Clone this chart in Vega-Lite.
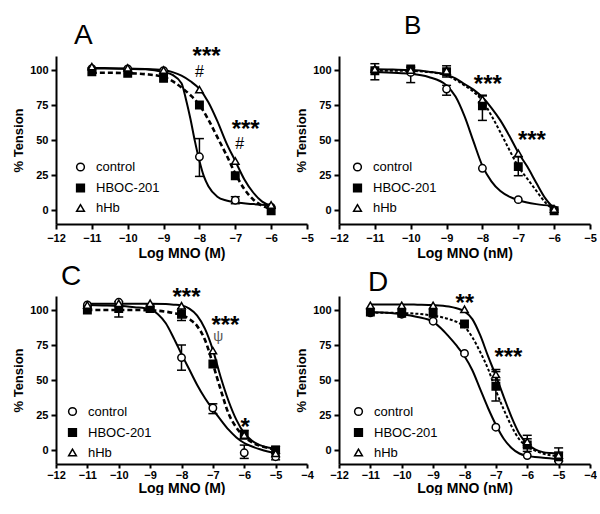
{
"$schema":"https://vega.github.io/schema/vega-lite/v6.json",
"background":"white",
"padding":{"left":12,"top":13,"right":0,"bottom":0},
"bounds":"flush",
"columns":2,
"spacing":{"row":72,"column":32},
"datasets":{
"pts":[
{"p":"A","s":"control","x":-11,"y":101},{"p":"A","s":"control","x":-10,"y":100.7},{"p":"A","s":"control","x":-9,"y":99.5},{"p":"A","s":"control","x":-8,"y":38,"lo":24,"hi":51},{"p":"A","s":"control","x":-7,"y":7,"lo":4.5,"hi":9.5},{"p":"A","s":"control","x":-6,"y":2},
{"p":"A","s":"HBOC-201","x":-11,"y":98.8},{"p":"A","s":"HBOC-201","x":-10,"y":97.6},{"p":"A","s":"HBOC-201","x":-9,"y":94},{"p":"A","s":"HBOC-201","x":-8,"y":75},{"p":"A","s":"HBOC-201","x":-7,"y":24.5},{"p":"A","s":"HBOC-201","x":-6,"y":-0.5},
{"p":"A","s":"hHb","x":-11,"y":102.4},{"p":"A","s":"hHb","x":-10,"y":101.5},{"p":"A","s":"hHb","x":-9,"y":100},{"p":"A","s":"hHb","x":-8,"y":86},{"p":"A","s":"hHb","x":-7,"y":35},{"p":"A","s":"hHb","x":-6,"y":3.6},
{"p":"B","s":"control","x":-11,"y":99.5,"lo":93,"hi":104.5},{"p":"B","s":"control","x":-10,"y":98.3,"lo":91,"hi":102},{"p":"B","s":"control","x":-9,"y":86.4,"lo":82,"hi":89},{"p":"B","s":"control","x":-8,"y":29.8},{"p":"B","s":"control","x":-7,"y":7.4},{"p":"B","s":"control","x":-6,"y":0},
{"p":"B","s":"HBOC-201","x":-11,"y":99.5},{"p":"B","s":"HBOC-201","x":-10,"y":100.7},{"p":"B","s":"HBOC-201","x":-9,"y":98.8,"lo":95,"hi":103},{"p":"B","s":"HBOC-201","x":-8,"y":74.5,"lo":64,"hi":81.5},{"p":"B","s":"HBOC-201","x":-7,"y":31,"lo":24.5,"hi":38},{"p":"B","s":"HBOC-201","x":-6,"y":-0.5},
{"p":"B","s":"hHb","x":-11,"y":100.7},{"p":"B","s":"hHb","x":-10,"y":100},{"p":"B","s":"hHb","x":-9,"y":99.5},{"p":"B","s":"hHb","x":-8,"y":79,"lo":77,"hi":82},{"p":"B","s":"hHb","x":-7,"y":40.5},{"p":"B","s":"hHb","x":-6,"y":0.7},
{"p":"C","s":"control","x":-11,"y":103.6},{"p":"C","s":"control","x":-10,"y":105.5},{"p":"C","s":"control","x":-9,"y":101},{"p":"C","s":"control","x":-8,"y":66,"lo":57,"hi":75},{"p":"C","s":"control","x":-7,"y":30,"lo":26,"hi":33},{"p":"C","s":"control","x":-6,"y":-2,"lo":-6,"hi":3.5},{"p":"C","s":"control","x":-5,"y":-4.8,"lo":-7,"hi":-2.5},
{"p":"C","s":"HBOC-201","x":-11,"y":100},{"p":"C","s":"HBOC-201","x":-10,"y":101,"lo":95,"hi":106},{"p":"C","s":"HBOC-201","x":-9,"y":101},{"p":"C","s":"HBOC-201","x":-8,"y":97,"lo":92.5,"hi":101},{"p":"C","s":"HBOC-201","x":-7,"y":61.4},{"p":"C","s":"HBOC-201","x":-6,"y":10.7,"lo":8,"hi":14},{"p":"C","s":"HBOC-201","x":-5,"y":0,"lo":-2.5,"hi":2.5},
{"p":"C","s":"hHb","x":-11,"y":103.6},{"p":"C","s":"hHb","x":-10,"y":104.8},{"p":"C","s":"hHb","x":-9,"y":104.8},{"p":"C","s":"hHb","x":-8,"y":103},{"p":"C","s":"hHb","x":-7,"y":71},{"p":"C","s":"hHb","x":-6,"y":10.7},{"p":"C","s":"hHb","x":-5,"y":-2.4},
{"p":"D","s":"control","x":-11,"y":98},{"p":"D","s":"control","x":-10,"y":97},{"p":"D","s":"control","x":-9,"y":92},{"p":"D","s":"control","x":-8,"y":69},{"p":"D","s":"control","x":-7,"y":16.3},{"p":"D","s":"control","x":-6,"y":-4},{"p":"D","s":"control","x":-5,"y":-7.7},
{"p":"D","s":"HBOC-201","x":-11,"y":98.5},{"p":"D","s":"HBOC-201","x":-10,"y":97.6},{"p":"D","s":"HBOC-201","x":-9,"y":97.6},{"p":"D","s":"HBOC-201","x":-8,"y":90},{"p":"D","s":"HBOC-201","x":-7,"y":45.5,"lo":35,"hi":56},{"p":"D","s":"HBOC-201","x":-6,"y":3.6,"lo":-1,"hi":8},{"p":"D","s":"HBOC-201","x":-5,"y":-4.8,"lo":-8,"hi":-1.5},
{"p":"D","s":"hHb","x":-11,"y":103.3},{"p":"D","s":"hHb","x":-10,"y":103.3},{"p":"D","s":"hHb","x":-9,"y":103.3},{"p":"D","s":"hHb","x":-8,"y":100.5},{"p":"D","s":"hHb","x":-7,"y":54,"lo":50,"hi":57.5},{"p":"D","s":"hHb","x":-6,"y":6,"lo":2,"hi":10.5},{"p":"D","s":"hHb","x":-5,"y":-3.6,"lo":-8,"hi":1.5}
],
"curves":[
{"p":"A","s":"control","x":-11,"y":101},{"p":"A","s":"control","x":-10.5,"y":101},{"p":"A","s":"control","x":-10,"y":100.8},{"p":"A","s":"control","x":-9.5,"y":100.5},{"p":"A","s":"control","x":-9,"y":98.5},{"p":"A","s":"control","x":-8.75,"y":96.5},{"p":"A","s":"control","x":-8.5,"y":90.5},{"p":"A","s":"control","x":-8.375,"y":79},{"p":"A","s":"control","x":-8.25,"y":65},{"p":"A","s":"control","x":-8.125,"y":49},{"p":"A","s":"control","x":-8,"y":35},{"p":"A","s":"control","x":-7.875,"y":24},{"p":"A","s":"control","x":-7.75,"y":17},{"p":"A","s":"control","x":-7.5,"y":9.5},{"p":"A","s":"control","x":-7.25,"y":6.8},{"p":"A","s":"control","x":-7,"y":5.5},{"p":"A","s":"control","x":-6.5,"y":4.2},{"p":"A","s":"control","x":-6,"y":3.5},
{"p":"A","s":"HBOC-201","x":-11,"y":98},{"p":"A","s":"HBOC-201","x":-10.5,"y":98},{"p":"A","s":"HBOC-201","x":-10,"y":97.7},{"p":"A","s":"HBOC-201","x":-9.5,"y":97},{"p":"A","s":"HBOC-201","x":-9,"y":95},{"p":"A","s":"HBOC-201","x":-8.75,"y":92},{"p":"A","s":"HBOC-201","x":-8.5,"y":87.5},{"p":"A","s":"HBOC-201","x":-8.25,"y":82},{"p":"A","s":"HBOC-201","x":-8,"y":75},{"p":"A","s":"HBOC-201","x":-7.75,"y":64.5},{"p":"A","s":"HBOC-201","x":-7.5,"y":52},{"p":"A","s":"HBOC-201","x":-7.25,"y":39.5},{"p":"A","s":"HBOC-201","x":-7,"y":26},{"p":"A","s":"HBOC-201","x":-6.75,"y":15},{"p":"A","s":"HBOC-201","x":-6.5,"y":7.5},{"p":"A","s":"HBOC-201","x":-6.25,"y":3},{"p":"A","s":"HBOC-201","x":-6,"y":1},
{"p":"A","s":"hHb","x":-11,"y":101.5},{"p":"A","s":"hHb","x":-10.5,"y":101.3},{"p":"A","s":"hHb","x":-10,"y":101},{"p":"A","s":"hHb","x":-9.5,"y":100.8},{"p":"A","s":"hHb","x":-9,"y":100},{"p":"A","s":"hHb","x":-8.75,"y":98.5},{"p":"A","s":"hHb","x":-8.5,"y":96},{"p":"A","s":"hHb","x":-8.25,"y":92},{"p":"A","s":"hHb","x":-8,"y":86.5},{"p":"A","s":"hHb","x":-7.75,"y":77},{"p":"A","s":"hHb","x":-7.5,"y":63.5},{"p":"A","s":"hHb","x":-7.25,"y":48},{"p":"A","s":"hHb","x":-7,"y":35},{"p":"A","s":"hHb","x":-6.75,"y":22},{"p":"A","s":"hHb","x":-6.5,"y":12.5},{"p":"A","s":"hHb","x":-6.25,"y":6},{"p":"A","s":"hHb","x":-6,"y":3},
{"p":"B","s":"control","x":-11,"y":98.5},{"p":"B","s":"control","x":-10.5,"y":98},{"p":"B","s":"control","x":-10,"y":97.3},{"p":"B","s":"control","x":-9.5,"y":95},{"p":"B","s":"control","x":-9,"y":89},{"p":"B","s":"control","x":-8.75,"y":81},{"p":"B","s":"control","x":-8.5,"y":67},{"p":"B","s":"control","x":-8.25,"y":49},{"p":"B","s":"control","x":-8,"y":31.5},{"p":"B","s":"control","x":-7.75,"y":20.5},{"p":"B","s":"control","x":-7.5,"y":13.5},{"p":"B","s":"control","x":-7.25,"y":9.5},{"p":"B","s":"control","x":-7,"y":7},{"p":"B","s":"control","x":-6.5,"y":4.2},{"p":"B","s":"control","x":-6,"y":3},
{"p":"B","s":"HBOC-201","x":-11,"y":99.5},{"p":"B","s":"HBOC-201","x":-10.5,"y":99.5},{"p":"B","s":"HBOC-201","x":-10,"y":99.3},{"p":"B","s":"HBOC-201","x":-9.5,"y":98.5},{"p":"B","s":"HBOC-201","x":-9,"y":96},{"p":"B","s":"HBOC-201","x":-8.75,"y":93},{"p":"B","s":"HBOC-201","x":-8.5,"y":89},{"p":"B","s":"HBOC-201","x":-8.25,"y":84.5},{"p":"B","s":"HBOC-201","x":-8,"y":78},{"p":"B","s":"HBOC-201","x":-7.75,"y":67.5},{"p":"B","s":"HBOC-201","x":-7.5,"y":55.5},{"p":"B","s":"HBOC-201","x":-7.25,"y":43},{"p":"B","s":"HBOC-201","x":-7,"y":31},{"p":"B","s":"HBOC-201","x":-6.75,"y":22.4},{"p":"B","s":"HBOC-201","x":-6.5,"y":13.8},{"p":"B","s":"HBOC-201","x":-6.25,"y":5.5},{"p":"B","s":"HBOC-201","x":-6,"y":0},
{"p":"B","s":"hHb","x":-11,"y":100.5},{"p":"B","s":"hHb","x":-10.5,"y":100.3},{"p":"B","s":"hHb","x":-10,"y":100},{"p":"B","s":"hHb","x":-9.5,"y":98.8},{"p":"B","s":"hHb","x":-9,"y":96.5},{"p":"B","s":"hHb","x":-8.75,"y":94},{"p":"B","s":"hHb","x":-8.5,"y":90},{"p":"B","s":"hHb","x":-8.25,"y":86},{"p":"B","s":"hHb","x":-8,"y":80.5},{"p":"B","s":"hHb","x":-7.75,"y":73},{"p":"B","s":"hHb","x":-7.5,"y":64},{"p":"B","s":"hHb","x":-7.25,"y":53},{"p":"B","s":"hHb","x":-7,"y":41},{"p":"B","s":"hHb","x":-6.75,"y":31},{"p":"B","s":"hHb","x":-6.5,"y":19.5},{"p":"B","s":"hHb","x":-6.25,"y":8.5},{"p":"B","s":"hHb","x":-6,"y":1},
{"p":"C","s":"control","x":-11,"y":103.5},{"p":"C","s":"control","x":-10.5,"y":103.3},{"p":"C","s":"control","x":-10,"y":103},{"p":"C","s":"control","x":-9.5,"y":102},{"p":"C","s":"control","x":-9,"y":100.5},{"p":"C","s":"control","x":-8.75,"y":97},{"p":"C","s":"control","x":-8.5,"y":90.5},{"p":"C","s":"control","x":-8.25,"y":80},{"p":"C","s":"control","x":-8,"y":68.5},{"p":"C","s":"control","x":-7.75,"y":57.5},{"p":"C","s":"control","x":-7.5,"y":46.5},{"p":"C","s":"control","x":-7.25,"y":37},{"p":"C","s":"control","x":-7,"y":29},{"p":"C","s":"control","x":-6.75,"y":21.5},{"p":"C","s":"control","x":-6.5,"y":14.5},{"p":"C","s":"control","x":-6.25,"y":9},{"p":"C","s":"control","x":-6,"y":5},{"p":"C","s":"control","x":-5.75,"y":2.5},{"p":"C","s":"control","x":-5.5,"y":0.5},{"p":"C","s":"control","x":-5.25,"y":-1},{"p":"C","s":"control","x":-5,"y":-2},
{"p":"C","s":"HBOC-201","x":-11,"y":100},{"p":"C","s":"HBOC-201","x":-10.5,"y":100},{"p":"C","s":"HBOC-201","x":-10,"y":100},{"p":"C","s":"HBOC-201","x":-9.5,"y":100},{"p":"C","s":"HBOC-201","x":-9,"y":99.8},{"p":"C","s":"HBOC-201","x":-8.5,"y":98.8},{"p":"C","s":"HBOC-201","x":-8.25,"y":97.8},{"p":"C","s":"HBOC-201","x":-8,"y":96.5},{"p":"C","s":"HBOC-201","x":-7.75,"y":93.5},{"p":"C","s":"HBOC-201","x":-7.5,"y":88.5},{"p":"C","s":"HBOC-201","x":-7.25,"y":78.5},{"p":"C","s":"HBOC-201","x":-7,"y":61.5},{"p":"C","s":"HBOC-201","x":-6.75,"y":43},{"p":"C","s":"HBOC-201","x":-6.5,"y":26},{"p":"C","s":"HBOC-201","x":-6.25,"y":16},{"p":"C","s":"HBOC-201","x":-6,"y":9.5},{"p":"C","s":"HBOC-201","x":-5.75,"y":5.5},{"p":"C","s":"HBOC-201","x":-5.5,"y":3},{"p":"C","s":"HBOC-201","x":-5.25,"y":1.5},{"p":"C","s":"HBOC-201","x":-5,"y":0.5},
{"p":"C","s":"hHb","x":-11,"y":104.5},{"p":"C","s":"hHb","x":-10,"y":104.5},{"p":"C","s":"hHb","x":-9.5,"y":104.5},{"p":"C","s":"hHb","x":-9,"y":104.5},{"p":"C","s":"hHb","x":-8.5,"y":104.2},{"p":"C","s":"hHb","x":-8.25,"y":103.8},{"p":"C","s":"hHb","x":-8,"y":103.3},{"p":"C","s":"hHb","x":-7.75,"y":101},{"p":"C","s":"hHb","x":-7.5,"y":96},{"p":"C","s":"hHb","x":-7.25,"y":86.5},{"p":"C","s":"hHb","x":-7,"y":71.5},{"p":"C","s":"hHb","x":-6.75,"y":52},{"p":"C","s":"hHb","x":-6.5,"y":35},{"p":"C","s":"hHb","x":-6.25,"y":21.5},{"p":"C","s":"hHb","x":-6,"y":12},{"p":"C","s":"hHb","x":-5.75,"y":6.5},{"p":"C","s":"hHb","x":-5.5,"y":3.5},{"p":"C","s":"hHb","x":-5.25,"y":1.8},{"p":"C","s":"hHb","x":-5,"y":1},
{"p":"D","s":"control","x":-11,"y":98.5},{"p":"D","s":"control","x":-10.5,"y":98},{"p":"D","s":"control","x":-10,"y":97},{"p":"D","s":"control","x":-9.5,"y":95},{"p":"D","s":"control","x":-9,"y":91.5},{"p":"D","s":"control","x":-8.75,"y":87},{"p":"D","s":"control","x":-8.5,"y":81},{"p":"D","s":"control","x":-8.25,"y":74.5},{"p":"D","s":"control","x":-8,"y":67},{"p":"D","s":"control","x":-7.75,"y":57},{"p":"D","s":"control","x":-7.5,"y":43.5},{"p":"D","s":"control","x":-7.25,"y":30},{"p":"D","s":"control","x":-7,"y":18},{"p":"D","s":"control","x":-6.75,"y":8},{"p":"D","s":"control","x":-6.5,"y":1.5},{"p":"D","s":"control","x":-6.25,"y":-2.5},{"p":"D","s":"control","x":-6,"y":-4.2},{"p":"D","s":"control","x":-5.5,"y":-5.5},{"p":"D","s":"control","x":-5,"y":-6.5},
{"p":"D","s":"HBOC-201","x":-11,"y":98},{"p":"D","s":"HBOC-201","x":-10.5,"y":98},{"p":"D","s":"HBOC-201","x":-10,"y":97.8},{"p":"D","s":"HBOC-201","x":-9.5,"y":97.3},{"p":"D","s":"HBOC-201","x":-9,"y":96},{"p":"D","s":"HBOC-201","x":-8.75,"y":95},{"p":"D","s":"HBOC-201","x":-8.5,"y":93.5},{"p":"D","s":"HBOC-201","x":-8.25,"y":91.5},{"p":"D","s":"HBOC-201","x":-8,"y":88},{"p":"D","s":"HBOC-201","x":-7.75,"y":80.5},{"p":"D","s":"HBOC-201","x":-7.5,"y":70},{"p":"D","s":"HBOC-201","x":-7.25,"y":58},{"p":"D","s":"HBOC-201","x":-7,"y":42.5},{"p":"D","s":"HBOC-201","x":-6.75,"y":29},{"p":"D","s":"HBOC-201","x":-6.5,"y":17},{"p":"D","s":"HBOC-201","x":-6.25,"y":7.5},{"p":"D","s":"HBOC-201","x":-6,"y":2.5},{"p":"D","s":"HBOC-201","x":-5.75,"y":-0.5},{"p":"D","s":"HBOC-201","x":-5.5,"y":-2.5},{"p":"D","s":"HBOC-201","x":-5.25,"y":-3.8},{"p":"D","s":"HBOC-201","x":-5,"y":-4.5},
{"p":"D","s":"hHb","x":-11,"y":104},{"p":"D","s":"hHb","x":-10,"y":104},{"p":"D","s":"hHb","x":-9.5,"y":103.8},{"p":"D","s":"hHb","x":-9,"y":103.5},{"p":"D","s":"hHb","x":-8.5,"y":102.5},{"p":"D","s":"hHb","x":-8.25,"y":101.2},{"p":"D","s":"hHb","x":-8,"y":99},{"p":"D","s":"hHb","x":-7.75,"y":93.5},{"p":"D","s":"hHb","x":-7.5,"y":82},{"p":"D","s":"hHb","x":-7.25,"y":67},{"p":"D","s":"hHb","x":-7,"y":53},{"p":"D","s":"hHb","x":-6.75,"y":38},{"p":"D","s":"hHb","x":-6.5,"y":23.5},{"p":"D","s":"hHb","x":-6.25,"y":11.5},{"p":"D","s":"hHb","x":-6,"y":4.5},{"p":"D","s":"hHb","x":-5.75,"y":0.5},{"p":"D","s":"hHb","x":-5.5,"y":-1.5},{"p":"D","s":"hHb","x":-5.25,"y":-2.2},{"p":"D","s":"hHb","x":-5,"y":-2.5}
],
"ann":[
{"p":"A","k":"star","t":"***","x":-7.8,"y":104.5},{"p":"A","k":"hash","t":"#","x":-8.0,"y":95},{"p":"A","k":"star","t":"***","x":-6.71,"y":52.5},{"p":"A","k":"hash","t":"#","x":-6.88,"y":43.4},
{"p":"B","k":"star","t":"***","x":-7.85,"y":84.5},{"p":"B","k":"star","t":"***","x":-6.62,"y":44},
{"p":"C","k":"star","t":"***","x":-7.84,"y":103.5},{"p":"C","k":"star","t":"***","x":-6.6,"y":83.5},{"p":"C","k":"psi","t":"ψ","x":-6.83,"y":78.2},{"p":"C","k":"star","t":"*","x":-5.97,"y":10.4},
{"p":"D","k":"star","t":"**","x":-7.99,"y":99},{"p":"D","k":"star","t":"***","x":-6.6,"y":60.8}
]
},
"concat":[
{"title":{"text":"A","anchor":"start","dx":18,"dy":9,"offset":4,"fontSize":28},"width":251,"height":168,
"encoding":{"x":{"field":"x","type":"quantitative","scale":{"domain":[-12,-5],"nice":false,"zero":false},"axis":{"values":[-12,-11,-10,-9,-8,-7,-6,-5],"title":"Log MNO (M)"}},
"y":{"field":"y","type":"quantitative","scale":{"domain":[-10,110],"nice":false,"zero":false},"axis":{"values":[0,25,50,75,100],"title":"% Tension"}}},
"layer":[
{"data":{"name":"curves"},"transform":[{"filter":"datum.p==='A' && datum.s!=='HBOC-201'"}],"mark":{"type":"line","color":"black","strokeWidth":2,"interpolate":"monotone"},"encoding":{"detail":{"field":"s"}}},
{"data":{"name":"curves"},"transform":[{"filter":"datum.p==='A' && datum.s==='HBOC-201'"}],"mark":{"type":"line","color":"black","strokeWidth":2.6,"strokeDash":[5,3],"interpolate":"monotone"}},
{"data":{"name":"pts"},"transform":[{"filter":"datum.p==='A' && isValid(datum.lo)"}],"mark":{"type":"rule","color":"black","strokeWidth":1.5},"encoding":{"y":{"field":"lo","type":"quantitative","scale":{"domain":[-10,110],"nice":false,"zero":false},"axis":{"values":[0,25,50,75,100],"title":"% Tension"}},"y2":{"field":"hi"}}},
{"data":{"name":"pts"},"transform":[{"filter":"datum.p==='A' && isValid(datum.lo)"}],"mark":{"type":"tick","orient":"horizontal","color":"black","size":9,"thickness":1.5,"opacity":1},"encoding":{"y":{"field":"lo","type":"quantitative","scale":{"domain":[-10,110],"nice":false,"zero":false},"axis":{"values":[0,25,50,75,100],"title":"% Tension"}}}},
{"data":{"name":"pts"},"transform":[{"filter":"datum.p==='A' && isValid(datum.lo)"}],"mark":{"type":"tick","orient":"horizontal","color":"black","size":9,"thickness":1.5,"opacity":1},"encoding":{"y":{"field":"hi","type":"quantitative","scale":{"domain":[-10,110],"nice":false,"zero":false},"axis":{"values":[0,25,50,75,100],"title":"% Tension"}}}},
{"data":{"name":"pts"},"transform":[{"filter":"datum.p==='A'"}],"mark":{"type":"point","filled":true,"strokeWidth":1.5,"size":55,"opacity":1},
"encoding":{"shape":{"field":"s","type":"nominal","scale":{"domain":["control","HBOC-201","hHb"],"range":["circle","square","triangle-up"]},"legend":{"orient":"none","legendX":18,"legendY":104.5,"title":null}},
"fill":{"field":"s","type":"nominal","scale":{"domain":["control","HBOC-201","hHb"],"range":["white","black","white"]},"legend":{"orient":"none","legendX":18,"legendY":104.5,"title":null}},
"stroke":{"field":"s","type":"nominal","scale":{"domain":["control","HBOC-201","hHb"],"range":["black","black","black"]},"legend":{"orient":"none","legendX":18,"legendY":104.5,"title":null}}}},
{"data":{"name":"ann"},"transform":[{"filter":"datum.p==='A' && datum.k==='star'"}],"mark":{"type":"text","fontSize":24,"fontWeight":"bold","baseline":"alphabetic","align":"center","color":"black"},"encoding":{"text":{"field":"t"}}},
{"data":{"name":"ann"},"transform":[{"filter":"datum.p==='A' && datum.k==='hash'"}],"mark":{"type":"text","fontSize":16,"baseline":"alphabetic","align":"center","color":"black"},"encoding":{"text":{"field":"t"}}}
]},
{"title":{"text":"B","anchor":"start","dx":65,"offset":17},"width":251,"height":168,
"encoding":{"x":{"field":"x","type":"quantitative","scale":{"domain":[-12,-5],"nice":false,"zero":false},"axis":{"values":[-12,-11,-10,-9,-8,-7,-6,-5],"title":"Log MNO (nM)"}},
"y":{"field":"y","type":"quantitative","scale":{"domain":[-10,110],"nice":false,"zero":false},"axis":{"values":[0,25,50,75,100],"title":"% Tension"}}},
"layer":[
{"data":{"name":"curves"},"transform":[{"filter":"datum.p==='B' && datum.s!=='HBOC-201'"}],"mark":{"type":"line","color":"black","strokeWidth":2,"interpolate":"monotone"},"encoding":{"detail":{"field":"s"}}},
{"data":{"name":"curves"},"transform":[{"filter":"datum.p==='B' && datum.s==='HBOC-201'"}],"mark":{"type":"line","color":"black","strokeWidth":2,"strokeDash":[3,2],"interpolate":"monotone"}},
{"data":{"name":"pts"},"transform":[{"filter":"datum.p==='B' && isValid(datum.lo)"}],"mark":{"type":"rule","color":"black","strokeWidth":1.5},"encoding":{"y":{"field":"lo","type":"quantitative","scale":{"domain":[-10,110],"nice":false,"zero":false},"axis":{"values":[0,25,50,75,100],"title":"% Tension"}},"y2":{"field":"hi"}}},
{"data":{"name":"pts"},"transform":[{"filter":"datum.p==='B' && isValid(datum.lo)"}],"mark":{"type":"tick","orient":"horizontal","color":"black","size":9,"thickness":1.5,"opacity":1},"encoding":{"y":{"field":"lo","type":"quantitative","scale":{"domain":[-10,110],"nice":false,"zero":false},"axis":{"values":[0,25,50,75,100],"title":"% Tension"}}}},
{"data":{"name":"pts"},"transform":[{"filter":"datum.p==='B' && isValid(datum.lo)"}],"mark":{"type":"tick","orient":"horizontal","color":"black","size":9,"thickness":1.5,"opacity":1},"encoding":{"y":{"field":"hi","type":"quantitative","scale":{"domain":[-10,110],"nice":false,"zero":false},"axis":{"values":[0,25,50,75,100],"title":"% Tension"}}}},
{"data":{"name":"pts"},"transform":[{"filter":"datum.p==='B'"}],"mark":{"type":"point","filled":true,"strokeWidth":1.5,"size":55,"opacity":1},
"encoding":{"shape":{"field":"s","type":"nominal","scale":{"domain":["control","HBOC-201","hHb"],"range":["circle","square","triangle-up"]},"legend":{"orient":"none","legendX":12,"legendY":104.5,"title":null}},
"fill":{"field":"s","type":"nominal","scale":{"domain":["control","HBOC-201","hHb"],"range":["white","black","white"]},"legend":{"orient":"none","legendX":12,"legendY":104.5,"title":null}},
"stroke":{"field":"s","type":"nominal","scale":{"domain":["control","HBOC-201","hHb"],"range":["black","black","black"]},"legend":{"orient":"none","legendX":12,"legendY":104.5,"title":null}}}},
{"data":{"name":"ann"},"transform":[{"filter":"datum.p==='B' && datum.k==='star'"}],"mark":{"type":"text","fontSize":24,"fontWeight":"bold","baseline":"alphabetic","align":"center","color":"black"},"encoding":{"text":{"field":"t"}}}
]},
{"title":{"text":"C","anchor":"start","dx":5,"dy":7,"offset":2,"fontSize":28},"width":251,"height":168,
"encoding":{"x":{"field":"x","type":"quantitative","scale":{"domain":[-12,-4],"nice":false,"zero":false},"axis":{"values":[-12,-11,-10,-9,-8,-7,-6,-5,-4],"title":"Log MNO (M)","tickSize":4,"labelPadding":1,"titlePadding":1}},
"y":{"field":"y","type":"quantitative","scale":{"domain":[-10,110],"nice":false,"zero":false},"axis":{"values":[0,25,50,75,100],"title":"% Tension"}}},
"layer":[
{"data":{"name":"curves"},"transform":[{"filter":"datum.p==='C' && datum.s!=='HBOC-201'"}],"mark":{"type":"line","color":"black","strokeWidth":2,"interpolate":"monotone"},"encoding":{"detail":{"field":"s"}}},
{"data":{"name":"curves"},"transform":[{"filter":"datum.p==='C' && datum.s==='HBOC-201'"}],"mark":{"type":"line","color":"black","strokeWidth":2.6,"strokeDash":[5,3],"interpolate":"monotone"}},
{"data":{"name":"pts"},"transform":[{"filter":"datum.p==='C' && isValid(datum.lo)"}],"mark":{"type":"rule","color":"black","strokeWidth":1.5},"encoding":{"y":{"field":"lo","type":"quantitative","scale":{"domain":[-10,110],"nice":false,"zero":false},"axis":{"values":[0,25,50,75,100],"title":"% Tension"}},"y2":{"field":"hi"}}},
{"data":{"name":"pts"},"transform":[{"filter":"datum.p==='C' && isValid(datum.lo)"}],"mark":{"type":"tick","orient":"horizontal","color":"black","size":9,"thickness":1.5,"opacity":1},"encoding":{"y":{"field":"lo","type":"quantitative","scale":{"domain":[-10,110],"nice":false,"zero":false},"axis":{"values":[0,25,50,75,100],"title":"% Tension"}}}},
{"data":{"name":"pts"},"transform":[{"filter":"datum.p==='C' && isValid(datum.lo)"}],"mark":{"type":"tick","orient":"horizontal","color":"black","size":9,"thickness":1.5,"opacity":1},"encoding":{"y":{"field":"hi","type":"quantitative","scale":{"domain":[-10,110],"nice":false,"zero":false},"axis":{"values":[0,25,50,75,100],"title":"% Tension"}}}},
{"data":{"name":"pts"},"transform":[{"filter":"datum.p==='C'"}],"mark":{"type":"point","filled":true,"strokeWidth":1.5,"size":55,"opacity":1},
"encoding":{"shape":{"field":"s","type":"nominal","scale":{"domain":["control","HBOC-201","hHb"],"range":["circle","square","triangle-up"]},"legend":{"orient":"none","legendX":10,"legendY":109,"title":null}},
"fill":{"field":"s","type":"nominal","scale":{"domain":["control","HBOC-201","hHb"],"range":["white","black","white"]},"legend":{"orient":"none","legendX":10,"legendY":109,"title":null}},
"stroke":{"field":"s","type":"nominal","scale":{"domain":["control","HBOC-201","hHb"],"range":["black","black","black"]},"legend":{"orient":"none","legendX":10,"legendY":109,"title":null}}}},
{"data":{"name":"ann"},"transform":[{"filter":"datum.p==='C' && datum.k==='star'"}],"mark":{"type":"text","fontSize":24,"fontWeight":"bold","baseline":"alphabetic","align":"center","color":"black"},"encoding":{"text":{"field":"t"}}},
{"data":{"name":"ann"},"transform":[{"filter":"datum.p==='C' && datum.k==='psi'"}],"mark":{"type":"text","fontSize":14,"baseline":"alphabetic","align":"center","color":"#555555"},"encoding":{"text":{"field":"t"}}}
]},
{"title":{"text":"D","anchor":"start","dx":29,"dy":7,"offset":2,"fontSize":28},"width":251,"height":168,
"encoding":{"x":{"field":"x","type":"quantitative","scale":{"domain":[-12,-4],"nice":false,"zero":false},"axis":{"values":[-12,-11,-10,-9,-8,-7,-6,-5,-4],"title":"Log MNO (nM)","tickSize":4,"labelPadding":1,"titlePadding":1}},
"y":{"field":"y","type":"quantitative","scale":{"domain":[-10,110],"nice":false,"zero":false},"axis":{"values":[0,25,50,75,100],"title":"% Tension"}}},
"layer":[
{"data":{"name":"curves"},"transform":[{"filter":"datum.p==='D' && datum.s!=='HBOC-201'"}],"mark":{"type":"line","color":"black","strokeWidth":2,"interpolate":"monotone"},"encoding":{"detail":{"field":"s"}}},
{"data":{"name":"curves"},"transform":[{"filter":"datum.p==='D' && datum.s==='HBOC-201'"}],"mark":{"type":"line","color":"black","strokeWidth":2,"strokeDash":[3,2],"interpolate":"monotone"}},
{"data":{"name":"pts"},"transform":[{"filter":"datum.p==='D' && isValid(datum.lo)"}],"mark":{"type":"rule","color":"black","strokeWidth":1.5},"encoding":{"y":{"field":"lo","type":"quantitative","scale":{"domain":[-10,110],"nice":false,"zero":false},"axis":{"values":[0,25,50,75,100],"title":"% Tension"}},"y2":{"field":"hi"}}},
{"data":{"name":"pts"},"transform":[{"filter":"datum.p==='D' && isValid(datum.lo)"}],"mark":{"type":"tick","orient":"horizontal","color":"black","size":9,"thickness":1.5,"opacity":1},"encoding":{"y":{"field":"lo","type":"quantitative","scale":{"domain":[-10,110],"nice":false,"zero":false},"axis":{"values":[0,25,50,75,100],"title":"% Tension"}}}},
{"data":{"name":"pts"},"transform":[{"filter":"datum.p==='D' && isValid(datum.lo)"}],"mark":{"type":"tick","orient":"horizontal","color":"black","size":9,"thickness":1.5,"opacity":1},"encoding":{"y":{"field":"hi","type":"quantitative","scale":{"domain":[-10,110],"nice":false,"zero":false},"axis":{"values":[0,25,50,75,100],"title":"% Tension"}}}},
{"data":{"name":"pts"},"transform":[{"filter":"datum.p==='D'"}],"mark":{"type":"point","filled":true,"strokeWidth":1.5,"size":55,"opacity":1},
"encoding":{"shape":{"field":"s","type":"nominal","scale":{"domain":["control","HBOC-201","hHb"],"range":["circle","square","triangle-up"]},"legend":{"orient":"none","legendX":13,"legendY":109,"title":null}},
"fill":{"field":"s","type":"nominal","scale":{"domain":["control","HBOC-201","hHb"],"range":["white","black","white"]},"legend":{"orient":"none","legendX":13,"legendY":109,"title":null}},
"stroke":{"field":"s","type":"nominal","scale":{"domain":["control","HBOC-201","hHb"],"range":["black","black","black"]},"legend":{"orient":"none","legendX":13,"legendY":109,"title":null}}}},
{"data":{"name":"ann"},"transform":[{"filter":"datum.p==='D' && datum.k==='star'"}],"mark":{"type":"text","fontSize":24,"fontWeight":"bold","baseline":"alphabetic","align":"center","color":"black"},"encoding":{"text":{"field":"t"}}}
]}
],
"resolve":{"scale":{"shape":"independent","fill":"independent","stroke":"independent"},"legend":{"shape":"independent","fill":"independent","stroke":"independent"}},
"config":{
"font":"Liberation Sans",
"view":{"stroke":null},
"title":{"font":"Liberation Sans","fontSize":26,"fontWeight":"normal","color":"black","frame":"group"},
"axis":{"grid":false,"domainColor":"black","domainWidth":2,"tickColor":"black","tickWidth":2,"tickSize":5,"labelFont":"Liberation Sans","labelFontSize":11,"labelFontWeight":"bold","labelColor":"black","labelPadding":3,"labelFlush":false,"labelOverlap":false,"titleFont":"Liberation Sans","titleFontWeight":"bold","titleColor":"black"},
"axisX":{"titleFontSize":14,"titlePadding":3},
"axisY":{"titleFontSize":13,"titlePadding":4},
"legend":{"padding":0,"labelFont":"Liberation Sans","labelFontSize":13,"labelColor":"black","symbolStrokeWidth":1.5,"symbolSize":60,"labelOffset":9,"rowPadding":6},
"text":{"font":"Liberation Sans"}
}
}
